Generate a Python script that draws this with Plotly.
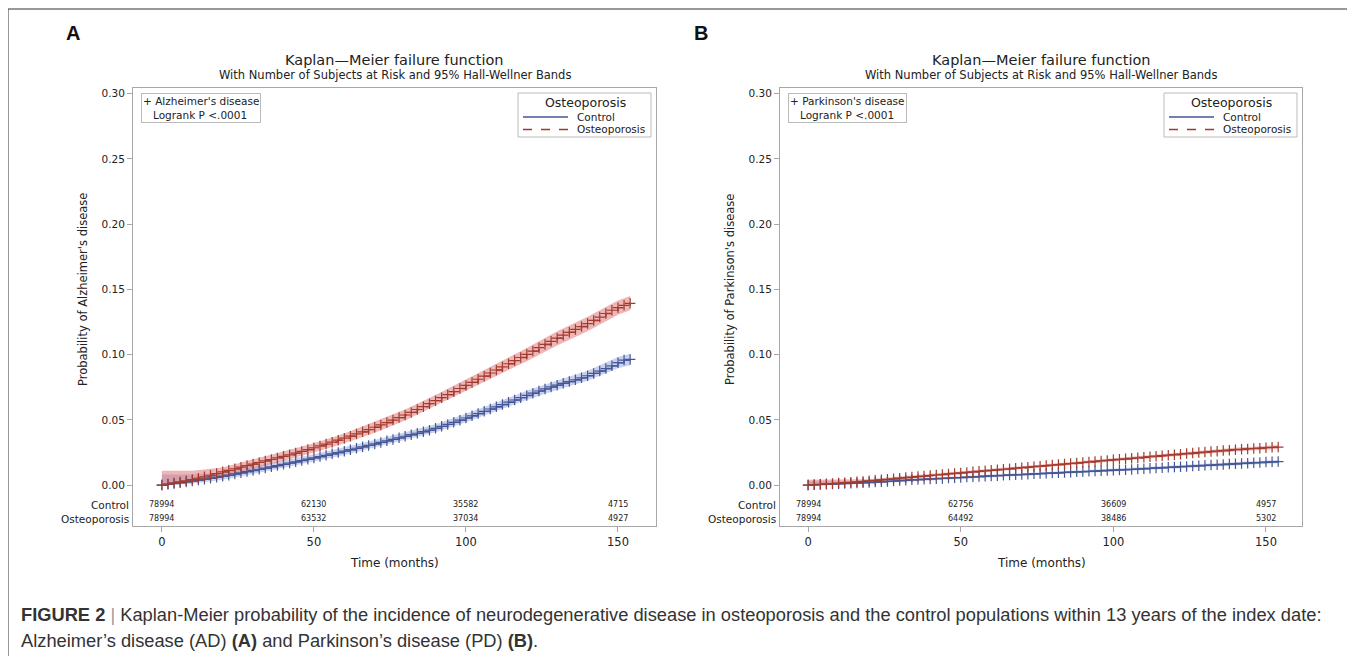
import plotly.graph_objects as go

W, H = 1355, 656
OFF = 8  # page offset of the plot inside the browser window
FONT = "DejaVu Sans"
CAP_FONT = "Liberation Sans"

# ---------------- data ----------------
months = [0, 2, 4, 6, 8, 10, 12, 14, 16, 18, 20, 22, 24, 26, 28, 30, 32, 34, 36, 38,
          40, 42, 44, 46, 48, 50, 52, 54, 56, 58, 60, 62, 64, 66, 68, 70, 72, 74, 76, 78,
          80, 82, 84, 86, 88, 90, 92, 94, 96, 98, 100, 102, 104, 106, 108, 110, 112, 114, 116, 118,
          120, 122, 124, 126, 128, 130, 132, 134, 136, 138, 140, 142, 144, 146, 148, 150, 152, 154]

ad_control = [0.0000, 0.0006, 0.0012, 0.0018, 0.0024, 0.0031, 0.0038, 0.0045, 0.0052, 0.0060,
              0.0068, 0.0076, 0.0085, 0.0094, 0.0103, 0.0112, 0.0121, 0.0130, 0.0140, 0.0149,
              0.0159, 0.0169, 0.0178, 0.0188, 0.0198, 0.0208, 0.0218, 0.0228, 0.0239, 0.0249,
              0.0260, 0.0271, 0.0282, 0.0293, 0.0304, 0.0315, 0.0327, 0.0339, 0.0350, 0.0362,
              0.0374, 0.0386, 0.0397, 0.0409, 0.0421, 0.0435, 0.0450, 0.0465, 0.0481, 0.0497,
              0.0514, 0.0531, 0.0548, 0.0565, 0.0583, 0.0600, 0.0617, 0.0635, 0.0652, 0.0670,
              0.0687, 0.0704, 0.0721, 0.0737, 0.0752, 0.0766, 0.0780, 0.0793, 0.0807, 0.0822,
              0.0838, 0.0856, 0.0874, 0.0893, 0.0914, 0.0938, 0.0958, 0.0963]

ad_osteo = [0.0000, 0.0008, 0.0016, 0.0024, 0.0033, 0.0042, 0.0052, 0.0063, 0.0075, 0.0088,
            0.0101, 0.0113, 0.0125, 0.0137, 0.0149, 0.0161, 0.0173, 0.0185, 0.0196, 0.0208,
            0.0220, 0.0232, 0.0245, 0.0258, 0.0272, 0.0286, 0.0300, 0.0314, 0.0329, 0.0344,
            0.0359, 0.0375, 0.0392, 0.0408, 0.0425, 0.0443, 0.0461, 0.0479, 0.0498, 0.0517,
            0.0537, 0.0557, 0.0579, 0.0601, 0.0624, 0.0647, 0.0670, 0.0693, 0.0716, 0.0740,
            0.0764, 0.0787, 0.0811, 0.0835, 0.0859, 0.0882, 0.0906, 0.0930, 0.0954, 0.0978,
            0.1002, 0.1027, 0.1053, 0.1078, 0.1102, 0.1126, 0.1149, 0.1171, 0.1193, 0.1215,
            0.1238, 0.1262, 0.1288, 0.1315, 0.1340, 0.1360, 0.1378, 0.1393]

pd_control = [0.0000, 0.0002, 0.0004, 0.0006, 0.0008, 0.0010, 0.0012, 0.0014, 0.0016, 0.0018,
              0.0020, 0.0023, 0.0025, 0.0028, 0.0031, 0.0034, 0.0037, 0.0040, 0.0042, 0.0044,
              0.0047, 0.0049, 0.0051, 0.0054, 0.0056, 0.0058, 0.0061, 0.0063, 0.0065, 0.0068,
              0.0070, 0.0072, 0.0075, 0.0077, 0.0079, 0.0081, 0.0083, 0.0086, 0.0088, 0.0090,
              0.0092, 0.0094, 0.0097, 0.0099, 0.0101, 0.0103, 0.0105, 0.0107, 0.0110, 0.0112,
              0.0114, 0.0116, 0.0118, 0.0120, 0.0123, 0.0125, 0.0128, 0.0131, 0.0133, 0.0136,
              0.0138, 0.0141, 0.0143, 0.0146, 0.0148, 0.0151, 0.0153, 0.0156, 0.0158, 0.0161,
              0.0163, 0.0166, 0.0168, 0.0171, 0.0173, 0.0176, 0.0178, 0.0180]

pd_osteo = [0.0000, 0.0003, 0.0006, 0.0009, 0.0012, 0.0015, 0.0018, 0.0021, 0.0025, 0.0028,
            0.0032, 0.0036, 0.0040, 0.0044, 0.0048, 0.0053, 0.0057, 0.0061, 0.0065, 0.0069,
            0.0073, 0.0077, 0.0081, 0.0085, 0.0089, 0.0093, 0.0097, 0.0101, 0.0105, 0.0109,
            0.0113, 0.0117, 0.0121, 0.0125, 0.0129, 0.0133, 0.0137, 0.0141, 0.0145, 0.0149,
            0.0153, 0.0157, 0.0161, 0.0165, 0.0169, 0.0173, 0.0177, 0.0181, 0.0185, 0.0189,
            0.0193, 0.0197, 0.0201, 0.0205, 0.0209, 0.0213, 0.0217, 0.0221, 0.0225, 0.0229,
            0.0233, 0.0237, 0.0241, 0.0245, 0.0249, 0.0253, 0.0257, 0.0260, 0.0264, 0.0267,
            0.0271, 0.0274, 0.0277, 0.0280, 0.0283, 0.0286, 0.0289, 0.0291]

# 95% Hall-Wellner bands (coarser grid)
band_months = [0, 10, 20, 30, 40, 50, 60, 70, 80, 90, 100, 110, 120, 130, 140, 150, 154]
ad_control_lo = [0.000, 0.0010, 0.0040, 0.0085, 0.0130, 0.0180, 0.0230, 0.0285, 0.0344,
                 0.0404, 0.0482, 0.0566, 0.0652, 0.0730, 0.0800, 0.0895, 0.0918]
ad_control_hi = [0.008, 0.0080, 0.0095, 0.0140, 0.0188, 0.0236, 0.0290, 0.0345, 0.0404,
                 0.0466, 0.0546, 0.0634, 0.0722, 0.0802, 0.0876, 0.0981, 0.1006]
ad_osteo_lo = [0.000, 0.0020, 0.0070, 0.0125, 0.0185, 0.0250, 0.0320, 0.0400, 0.0495,
               0.0605, 0.0720, 0.0835, 0.0950, 0.1070, 0.1180, 0.1305, 0.1340]
ad_osteo_hi = [0.011, 0.0110, 0.0135, 0.0195, 0.0255, 0.0320, 0.0395, 0.0485, 0.0580,
               0.0690, 0.0810, 0.0930, 0.1050, 0.1180, 0.1290, 0.1415, 0.1450]
pd_control_lo = [0.000, 0.0002, 0.0010, 0.0024, 0.0037, 0.0048, 0.0060, 0.0071, 0.0082,
                 0.0093, 0.0104, 0.0114, 0.0127, 0.0139, 0.0151, 0.0164, 0.0168]
pd_control_hi = [0.003, 0.0030, 0.0030, 0.0044, 0.0057, 0.0068, 0.0080, 0.0091, 0.0102,
                 0.0113, 0.0124, 0.0136, 0.0149, 0.0163, 0.0175, 0.0188, 0.0192]
pd_osteo_lo = [0.000, 0.0005, 0.0022, 0.0041, 0.0061, 0.0081, 0.0101, 0.0121, 0.0141,
               0.0161, 0.0181, 0.0200, 0.0220, 0.0240, 0.0257, 0.0272, 0.0277]
pd_osteo_hi = [0.004, 0.0040, 0.0044, 0.0065, 0.0085, 0.0105, 0.0125, 0.0145, 0.0165,
               0.0185, 0.0205, 0.0226, 0.0246, 0.0266, 0.0285, 0.0300, 0.0305]

# number at risk
risk_months = [0, 50, 100, 150]
ad_risk_control = [78994, 62130, 35582, 4715]
ad_risk_osteo = [78994, 63532, 37034, 4927]
pd_risk_control = [78994, 62756, 36609, 4957]
pd_risk_osteo = [78994, 64492, 38486, 5302]

x_ticks = [0, 50, 100, 150]
y_ticks = [0.00, 0.05, 0.10, 0.15, 0.20, 0.25, 0.30]
y_tick_text = ["0.00", "0.05", "0.10", "0.15", "0.20", "0.25", "0.30"]

# ---------------- styling ----------------
BLUE = "#445694"
RED = "#A23A2E"
BLUE_BAND = "rgba(120,140,215,0.40)"
RED_BAND = "rgba(222,110,110,0.50)"
FRAME = "#A8A8A8"
TXT = "#222222"


def px_x(p):
    return (p - OFF) / W


def px_y(p):
    return 1 - (p - OFF) / H


fig = go.Figure()

panels = [
    dict(xa="x", ya="y", ctrl=ad_control, ost=ad_osteo,
         c_lo=ad_control_lo, c_hi=ad_control_hi, o_lo=ad_osteo_lo, o_hi=ad_osteo_hi,
         rc=ad_risk_control, ro=ad_risk_osteo,
         left=133, right=656, xrange=[-9.5, 162.5],
         disease="Alzheimer's disease", letter="A", letter_x=73),
    dict(xa="x2", ya="y2", ctrl=pd_control, ost=pd_osteo,
         c_lo=pd_control_lo, c_hi=pd_control_hi, o_lo=pd_osteo_lo, o_hi=pd_osteo_hi,
         rc=pd_risk_control, ro=pd_risk_osteo,
         left=780, right=1302, xrange=[-9.2, 161.8],
         disease="Parkinson's disease", letter="B", letter_x=701),
]

TOP, BOTTOM = 88, 526
YRANGE = [-0.0314, 0.3044]

annotations = []
shapes = []
for i, p in enumerate(panels):
    xa, ya = p["xa"], p["ya"]
    # bands
    for lo, hi, col in [(p["c_lo"], p["c_hi"], BLUE_BAND), (p["o_lo"], p["o_hi"], RED_BAND)]:
        fig.add_trace(go.Scatter(
            x=band_months + band_months[::-1], y=hi + lo[::-1],
            fill="toself", fillcolor=col, line=dict(width=0),
            mode="lines", hoverinfo="skip", showlegend=False, xaxis=xa, yaxis=ya))
    # curves
    for vals, col, dash in [(p["ctrl"], BLUE, "solid"), (p["ost"], RED, "dash")]:
        fig.add_trace(go.Scatter(
            x=months, y=vals, mode="lines+markers", line_shape="hv",
            line=dict(color=col, width=1.4, dash=dash),
            marker=dict(symbol="cross-thin", size=7.5, line=dict(width=1.2, color=col), color=col),
            showlegend=False, xaxis=xa, yaxis=ya))

    # risk table
    for row_vals, row_label, ypos in [(p["rc"], "Control", -0.0150), (p["ro"], "Osteoporosis", -0.0258)]:
        for m, v in zip(risk_months, row_vals):
            annotations.append(dict(x=m, y=ypos, xref=xa, yref=ya, text=str(v), showarrow=False,
                                    font=dict(family=FONT, size=8, color=TXT),
                                    xanchor="center", yanchor="middle"))
        annotations.append(dict(x=px_x(p["left"] - 2), y=ypos, xref="paper", yref=ya, text=row_label,
                                showarrow=False, font=dict(family=FONT, size=10.5, color=TXT),
                                xanchor="right", yanchor="middle"))

    cx = (p["left"] + p["right"]) / 2
    annotations += [
        dict(x=px_x(cx), y=px_y(60), xref="paper", yref="paper", text="Kaplan\u2014Meier failure function",
             showarrow=False, font=dict(family=FONT, size=14.5, color=TXT), xanchor="center", yanchor="middle"),
        dict(x=px_x(cx), y=px_y(75), xref="paper", yref="paper",
             text="With Number of Subjects at Risk and 95% Hall-Wellner Bands",
             showarrow=False, font=dict(family=FONT, size=11.5, color=TXT), xanchor="center", yanchor="middle"),
        dict(x=px_x(p["letter_x"]), y=px_y(33), xref="paper", yref="paper", text="<b>%s</b>" % p["letter"],
             showarrow=False, font=dict(family=CAP_FONT, size=20, color="#111"), xanchor="center", yanchor="middle"),
        dict(x=px_x(p["left"] - 50), y=px_y(290), xref="paper", yref="paper",
             text="Probability of %s" % p["disease"], textangle=-90,
             showarrow=False, font=dict(family=FONT, size=11.5, color=TXT), xanchor="center", yanchor="middle"),
        dict(x=px_x(cx), y=px_y(563), xref="paper", yref="paper", text="Time (months)",
             showarrow=False, font=dict(family=FONT, size=12, color=TXT), xanchor="center", yanchor="middle"),
        dict(x=px_x(p["left"] + 8), y=px_y(93), xref="paper", yref="paper",
             text="+ %s<br>\u00a0\u00a0\u00a0Logrank P &lt;.0001" % p["disease"], align="left",
             showarrow=False, font=dict(family=FONT, size=10.5, color=TXT),
             xanchor="left", yanchor="top", bordercolor="#BBBBBB", borderwidth=1, borderpad=1,
             bgcolor="white"),
    ]

    # legend box (drawn)
    lr = p["right"] - 5
    ll = lr - 133
    shapes.append(dict(type="rect", xref="paper", yref="paper", x0=px_x(ll), x1=px_x(lr),
                       y0=px_y(137), y1=px_y(93), line=dict(color="#BBBBBB", width=1),
                       fillcolor="white", layer="above"))
    annotations.append(dict(x=px_x((ll + lr) / 2 + 1), y=px_y(102), xref="paper", yref="paper",
                            text="Osteoporosis", showarrow=False,
                            font=dict(family=FONT, size=12.5, color=TXT), xanchor="center", yanchor="middle"))
    for row_y, col, dash, label in [(117, BLUE, "solid", "Control"), (129.5, RED, "dash", "Osteoporosis")]:
        shapes.append(dict(type="line", xref="paper", yref="paper", x0=px_x(ll + 5), x1=px_x(ll + 50),
                           y0=px_y(row_y), y1=px_y(row_y), line=dict(color=col, width=1.3, dash=dash),
                           layer="above"))
        annotations.append(dict(x=px_x(ll + 57), y=px_y(row_y), xref="paper", yref="paper", text=label,
                                showarrow=False, font=dict(family=FONT, size=10.5, color=TXT),
                                xanchor="left", yanchor="middle"))

# caption
annotations += [
    dict(x=px_x(19), y=px_y(614), xref="paper", yref="paper", xanchor="left", yanchor="middle",
         text="<b>FIGURE 2</b> <span style='color:#999'>|</span> Kaplan-Meier probability of the incidence of "
              "neurodegenerative disease in osteoporosis and the control populations within 13 years of the index date:",
         showarrow=False, font=dict(family=CAP_FONT, size=18.3, color="#333")),
    dict(x=px_x(19), y=px_y(640), xref="paper", yref="paper", xanchor="left", yanchor="middle",
         text="Alzheimer\u2019s disease (AD) <b>(A)</b> and Parkinson\u2019s disease (PD) <b>(B)</b>.",
         showarrow=False, font=dict(family=CAP_FONT, size=18.3, color="#333")),
]

shapes.append(dict(type="rect", xref="paper", yref="paper", x0=px_x(8), x1=px_x(1351),
                   y0=px_y(660), y1=px_y(9), line=dict(color="#333", width=1)))

axis_common = dict(showgrid=False, zeroline=False, showline=True, mirror=True, linecolor=FRAME,
                   linewidth=1, ticks="outside", ticklen=5, tickcolor=FRAME, fixedrange=True)

layout_axes = {}
for i, p in enumerate(panels):
    sfx = "" if i == 0 else "2"
    layout_axes["xaxis" + sfx] = dict(axis_common, domain=[px_x(p["left"]), px_x(p["right"])],
                                      range=p["xrange"], tickvals=x_ticks, anchor="y" + sfx,
                                      tickfont=dict(family=FONT, size=11.5, color=TXT))
    layout_axes["yaxis" + sfx] = dict(axis_common, domain=[px_y(BOTTOM), px_y(TOP)],
                                      range=YRANGE, tickvals=y_ticks, ticktext=y_tick_text,
                                      anchor="x" + sfx,
                                      tickfont=dict(family=FONT, size=10.5, color=TXT))

fig.update_layout(
    width=W, height=H, margin=dict(l=0, r=0, t=0, b=0),
    paper_bgcolor="white", plot_bgcolor="white",
    showlegend=False,
    annotations=annotations,
    shapes=shapes,
    **layout_axes,
)

fig.write_html("out.html")
